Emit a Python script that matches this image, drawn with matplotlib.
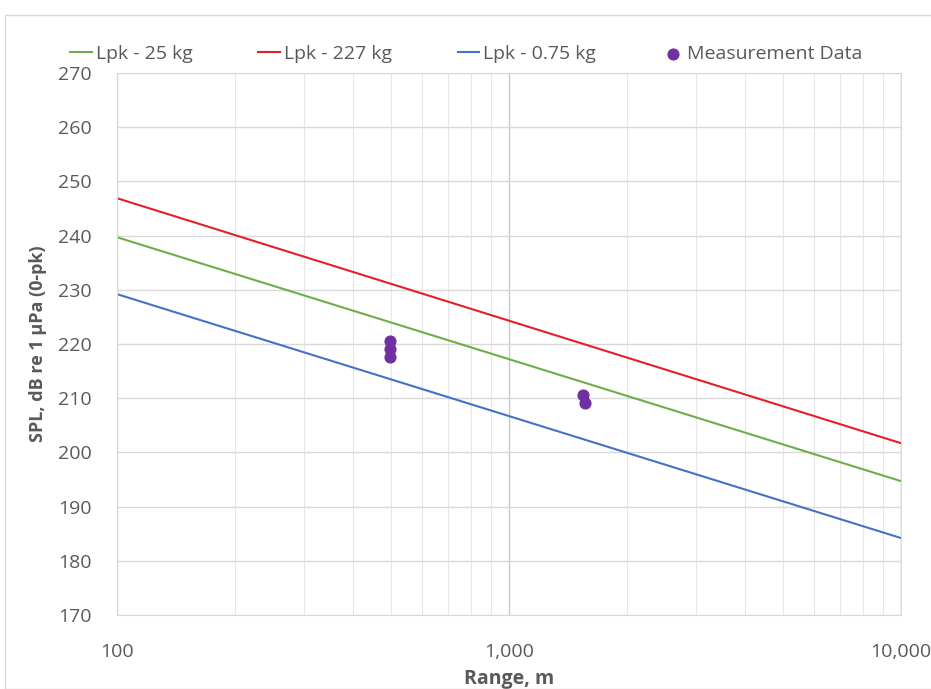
import matplotlib.pyplot as plt
from matplotlib.patches import Rectangle
from matplotlib.ticker import FixedLocator, NullFormatter

plt.rcParams['font.family'] = ['Open Sans', 'DejaVu Sans']

# data
ranges = [100, 1000, 10000]
lpk_25 = [239.7, 217.2, 194.7]
lpk_227 = [246.9, 224.3, 201.7]
lpk_075 = [229.2, 206.7, 184.2]

meas_range = [497, 497, 497, 1540, 1560]
meas_spl = [220.6, 219.0, 217.6, 210.6, 209.2]

grey = '#595959'
grid = '#d9d9d9'

fig = plt.figure(figsize=(9.31, 6.89), dpi=100)
fig.patches.append(Rectangle((5 / 931, 0), 1, 1 - 15 / 689, transform=fig.transFigure,
                             fill=False, edgecolor='#d9d9d9', linewidth=1))
ax = fig.add_axes([117 / 931, 1 - 615 / 689, 784 / 931, 542 / 689])

ax.plot(ranges, lpk_25, color='#70ad47', lw=1.5, label='Lpk - 25 kg')
ax.plot(ranges, lpk_227, color='#e2202a', lw=1.5, label='Lpk - 227 kg')
ax.plot(ranges, lpk_075, color='#4472c4', lw=1.5, label='Lpk - 0.75 kg')
ax.scatter(meas_range, meas_spl, s=60, color='#7030a0', zorder=5, label='Measurement Data')

ax.set_xscale('log')
ax.set_xlim(100, 10000)
ax.set_ylim(170, 270)
ax.set_yticks(range(170, 271, 10))
ax.set_xticks([100, 1000, 10000])
ax.set_xticklabels(['100', '1,000', '10,000'])
minors = [m * d for d in (100, 1000) for m in range(2, 10)]
ax.xaxis.set_minor_locator(FixedLocator(minors))
ax.xaxis.set_minor_formatter(NullFormatter())

ax.grid(True, which='major', color='#c8c8c8', lw=1)
ax.grid(True, which='minor', axis='x', color='#e6e6e6', lw=0.8)
ax.grid(True, which='major', axis='y', color=grid, lw=1)
ax.set_axisbelow(True)
for s in ax.spines.values():
    s.set_color(grid)

ax.tick_params(which='both', length=0, colors=grey, labelsize=14)
ax.tick_params(axis='x', pad=20)
ax.tick_params(axis='y', pad=18)

ax.set_xlabel('Range, m', fontsize=14, fontweight='bold', color=grey, labelpad=6)
ax.set_ylabel('SPL, dB re 1 µPa (0-pk)', fontsize=13, fontweight='bold', color=grey, labelpad=8)

leg = ax.legend(loc='lower left', bbox_to_anchor=(-0.072, 1.0), ncol=4, frameon=False,
                fontsize=14, handlelength=1.1, handletextpad=0.2, columnspacing=3.4,
                borderaxespad=0.1)
for t in leg.get_texts():
    t.set_color(grey)

fig.savefig('out.png', dpi=100)
